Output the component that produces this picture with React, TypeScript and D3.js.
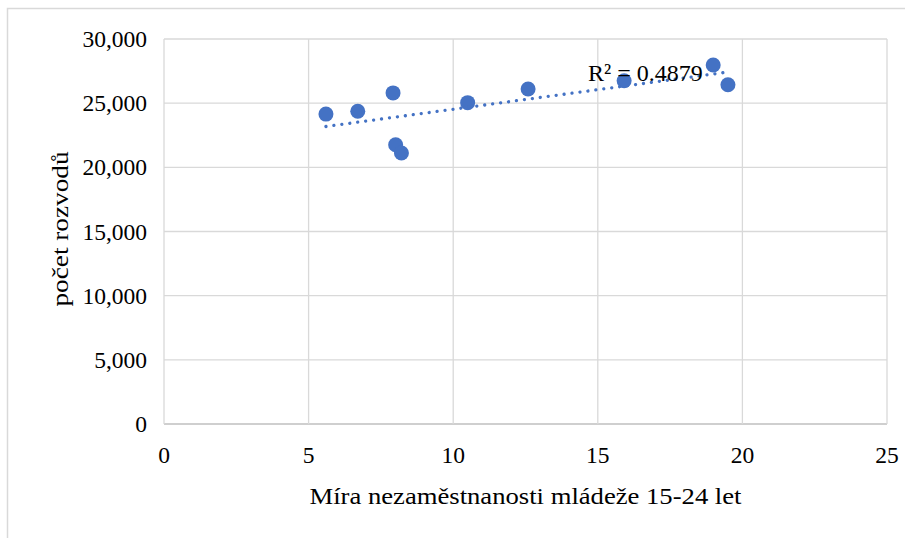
import React from 'react';
import * as d3 from 'd3';

// youth unemployment rate 15-24 (%) vs. number of divorces
const unemployment = [5.6, 6.7, 7.92, 8.01, 8.21, 10.5, 12.59, 15.91, 18.99, 19.5];
const divorces = [24150, 24370, 25800, 21760, 21120, 25040, 26100, 26750, 27970, 26440];
const xTicks = [0, 5, 10, 15, 20, 25];
const yTicks = [0, 5000, 10000, 15000, 20000, 25000, 30000];
const r2Label = 'R² = 0.4879';
const xTitle = 'Míra nezaměstnanosti mládeže 15-24 let';
const yTitle = 'počet rozvodů';

const W = 905;
const H = 538;
const plot = { left: 164, right: 887, top: 39, bottom: 424 };
const blue = '#4472C4';
const grid = '#d9d9d9';
const font = '"Liberation Serif", "Times New Roman", serif';

const App: React.FC = () => {
  const x = d3.scaleLinear().domain([0, 25]).range([plot.left, plot.right]);
  const y = d3.scaleLinear().domain([0, 30000]).range([plot.bottom, plot.top]);
  const fmt = d3.format(',');

  // linear trend line (least squares)
  const mx = d3.mean(unemployment)!;
  const my = d3.mean(divorces)!;
  let sxy = 0, sxx = 0;
  unemployment.forEach((v, i) => {
    sxy += (v - mx) * (divorces[i] - my);
    sxx += (v - mx) * (v - mx);
  });
  const slope = sxy / sxx;
  const icpt = my - slope * mx;
  const [x0, x1] = d3.extent(unemployment) as [number, number];
  const trend = d3.line<number>()
    .x(d => x(d))
    .y(d => y(icpt + slope * d))([x0, x1]);

  return (
    <svg width={W} height={H} style={{ position: 'absolute', left: 0, top: 0, background: '#fff' }}
      fontFamily={font}>
      <rect x={7.5} y={8.5} width={W + 10} height={H + 10} fill="#fff" stroke={grid} strokeWidth={1.5} />

      {yTicks.map(t => (
        <g key={'y' + t}>
          <line x1={plot.left} x2={plot.right} y1={y(t)} y2={y(t)}
            stroke={t === 0 ? '#bfbfbf' : grid} strokeWidth={t === 0 ? 1.5 : 1.3} />
          <text x={147} y={y(t) + 8} textAnchor="end" fontSize={23.5} fill="#000">{fmt(t)}</text>
        </g>
      ))}
      {xTicks.map(t => (
        <g key={'x' + t}>
          <line x1={x(t)} x2={x(t)} y1={plot.top} y2={plot.bottom}
            stroke={grid} strokeWidth={1.3} />
          <text x={x(t)} y={plot.bottom + 39} textAnchor="middle" fontSize={23.5} fill="#000">{t}</text>
        </g>
      ))}

      {divorces.map((d, i) => (
        <circle key={i} cx={x(unemployment[i])} cy={y(d)} r={7.5} fill={blue} />
      ))}

      <path d={trend || ''} fill="none" stroke={blue} strokeWidth={3.3}
        strokeLinecap="round" strokeDasharray="0.01 8" />

      <text x={588} y={81} fontSize={24} fill="#000">{r2Label}</text>

      <text x={(plot.left + plot.right) / 2} y={504} textAnchor="middle" fontSize={24} fill="#000"
        textLength={432} lengthAdjust="spacingAndGlyphs">{xTitle}</text>
      <text transform={`translate(68,229) rotate(-90)`} textAnchor="middle"
        fontSize={24} fill="#000" textLength={155} lengthAdjust="spacingAndGlyphs">{yTitle}</text>
    </svg>
  );
};

export default App;
